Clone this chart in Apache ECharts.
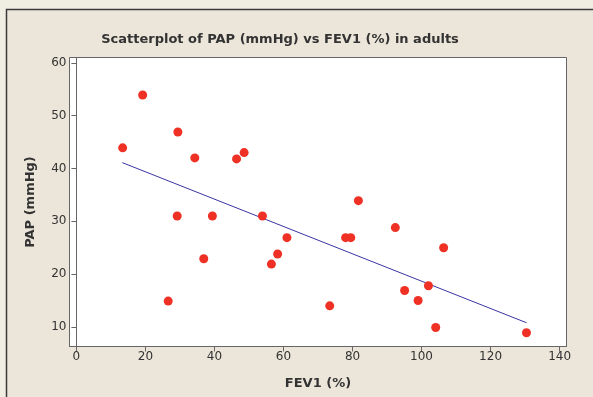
<!DOCTYPE html>
<html>
<head>
<meta charset="utf-8">
<script src="https://cdn.jsdelivr.net/npm/echarts@6/dist/echarts.min.js"></script>
<style>
  html, body { margin: 0; padding: 0; background: #F0EEE3; }
  #chart { width: 593px; height: 397px; }
</style>
</head>
<body>
<div id="chart"></div>
<script>
// FEV1 (%) and PAP (mmHg)
const fev1 = [13.4, 19.2, 29.4, 34.3, 46.4, 48.6, 29.2, 39.4, 53.9, 61.0, 58.3, 56.5,
  36.9, 26.6, 81.7, 78.0, 79.5, 92.4, 106.4, 102.0, 95.1, 99.0, 104.1, 73.4, 130.4]
const pap = [43.9, 53.9, 46.9, 42.0, 41.8, 43.0, 31.0, 31.0, 31.0, 26.9, 23.8, 21.9,
  22.9, 14.9, 33.9, 26.9, 26.9, 28.8, 25.0, 17.8, 16.9, 15.0, 9.9, 14.0, 8.9]
// fitted line ends
const fitX = [13.3, 130.4]
const fitY = [41.1, 10.8]
const xTicks = [0, 20, 40, 60, 80, 100, 120, 140]
const yTicks = [10, 20, 30, 40, 50, 60]

const points = fev1.map((x, i) => [x, pap[i]])
const fitLine = fitX.map((x, i) => [x, fitY[i]])

const chart = echarts.init(document.getElementById('chart'))
const font = 'DejaVu Sans'

chart.setOption({
  animation: false,
  graphic: [
    {
      type: 'rect',
      shape: { x: 6.5, y: 9.5, width: 800, height: 600 },
      style: { fill: '#ECE6DA', stroke: '#3a3a3a', lineWidth: 1.5 },
      silent: true,
      z: -10,
    },
  ],
  title: {
    text: 'Scatterplot of PAP (mmHg) vs FEV1 (%) in adults',
    left: 275,
    top: 28,
    textAlign: 'center',
    textStyle: { fontFamily: font, fontSize: 13, fontWeight: 'bold', color: '#333' },
  },
  grid: {
    left: 69.5,
    top: 57.5,
    right: 26.5,
    bottom: 50.5,
    show: true,
    backgroundColor: '#fff',
    borderColor: '#666',
    borderWidth: 1,
  },
  xAxis: {
    type: 'value',
    min: -2,
    max: 142,
    name: 'FEV1 (%)',
    nameLocation: 'middle',
    nameGap: 31,
    nameTextStyle: { fontFamily: font, fontSize: 13, fontWeight: 'bold', color: '#333' },
    axisLine: { show: true, lineStyle: { color: '#666' } },
    axisTick: { show: true, length: 5, customValues: xTicks, lineStyle: { color: '#666' } },
    axisLabel: { customValues: xTicks, fontFamily: font, fontSize: 12, color: '#333', margin: 4 },
    splitLine: { show: false },
  },
  yAxis: {
    type: 'value',
    min: 6.3,
    max: 61,
    name: 'PAP (mmHg)',
    nameLocation: 'middle',
    nameGap: 32,
    nameTextStyle: { fontFamily: font, fontSize: 13, fontWeight: 'bold', color: '#333' },
    axisLine: { show: true, lineStyle: { color: '#666' } },
    axisTick: { show: true, length: 5, customValues: yTicks, lineStyle: { color: '#666' } },
    axisLabel: { customValues: yTicks, fontFamily: font, fontSize: 12, color: '#333', margin: 3 },
    splitLine: { show: false },
  },
  series: [
    {
      type: 'line',
      data: fitLine,
      symbol: 'none',
      lineStyle: { color: '#3a35a0', width: 1 },
      z: 1,
    },
    {
      type: 'scatter',
      data: points,
      symbolSize: 9,
      itemStyle: { color: '#EE3124', opacity: 1 },
      z: 2,
    },
  ],
})
</script>
</body>
</html>
